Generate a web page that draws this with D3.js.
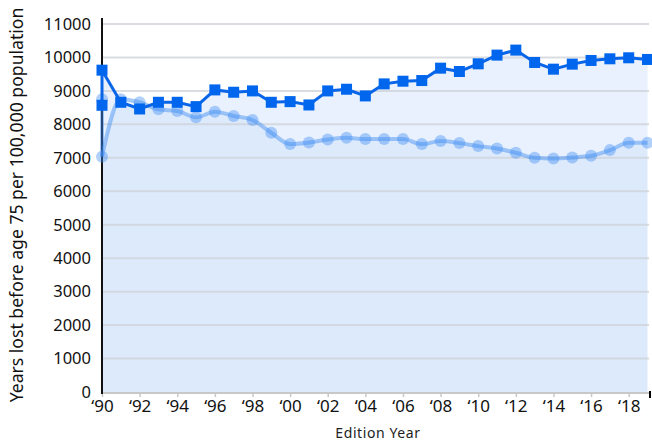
<!DOCTYPE html>
<html><head><meta charset="utf-8">
<script src="https://cdn.jsdelivr.net/npm/d3@7"></script>
<style>
html,body{margin:0;padding:0;background:#fff;}
svg{display:block;font-family:"Noto Sans",sans-serif;}
</style></head>
<body><svg id="c" width="652" height="448"></svg>
<script>
const years = [1990,1990,1991,1992,1993,1994,1995,1996,1997,1998,1999,2000,2001,2002,2003,2004,2005,2006,2007,2008,2009,2010,2011,2012,2013,2014,2015,2016,2017,2018,2019];
const seriesA = [8570,9620,8660,8460,8660,8660,8530,9030,8960,9000,8660,8680,8580,9000,9050,8850,9210,9290,9310,9680,9580,9810,10070,10220,9850,9650,9800,9910,9960,9990,9940];
const seriesB = [8750,7035,8750,8660,8450,8400,8210,8380,8250,8130,7750,7410,7460,7550,7600,7560,7560,7560,7410,7500,7440,7350,7280,7150,7000,6980,7010,7060,7230,7450,7450];
const yTicks = [0,1000,2000,3000,4000,5000,6000,7000,8000,9000,10000,11000];
const xTicks = [1990,1992,1994,1996,1998,2000,2002,2004,2006,2008,2010,2012,2014,2016,2018];
const yLabel = "Years lost before age 75 per 100,000 population";
const xLabel = "Edition Year";

(function(){
const svg = d3.select("#c");
const pL = 102, pR = 649, pT = 24, pB = 392;
const x = d3.scaleLinear().domain([1990, 2019]).range([102, 647.5]);
const y = d3.scaleLinear().domain([0, 11000]).range([pB, pT]);

const A = years.map((yr,i)=>({x:yr, y:seriesA[i]}));
const B = years.map((yr,i)=>({x:yr, y:seriesB[i]}));

const areaA = d3.area().x(d=>x(d.x)).y0(y(0)).y1(d=>y(d.y));
svg.append("path").attr("d", areaA(A)).attr("fill","#1a73e8").attr("fill-opacity",0.1);
const Bcurve = B.slice(1);
const areaB = d3.area().x(d=>x(d.x)).y0(y(0)).y1(d=>y(d.y)).curve(d3.curveMonotoneX);
svg.append("path").attr("d", areaB(Bcurve)).attr("fill","#1a73e8").attr("fill-opacity",0.05);

svg.append("g").selectAll("line").data(yTicks.filter(t=>t>0)).join("line")
  .attr("x1", pL).attr("x2", pR).attr("y1", d=>y(d)).attr("y2", d=>y(d))
  .attr("stroke","#cfd3d9").attr("stroke-width",2).attr("stroke-opacity",0.8);

svg.append("line").attr("x1",pL).attr("x2",pR).attr("y1",pB+1).attr("y2",pB+1)
  .attr("stroke","#c8c8c8").attr("stroke-width",2);
const xAxis = d3.axisBottom(x).tickValues(xTicks).tickSize(5).tickPadding(3)
  .tickFormat(d=>"\u2018"+String(d).slice(2));
const gx = svg.append("g").attr("transform",`translate(0,${pB})`).call(xAxis);
gx.select(".domain").remove();
gx.selectAll(".tick line").attr("stroke","#c8c8c8").attr("stroke-width",1.5);
gx.selectAll(".tick text").attr("font-size",17).attr("fill","#111").attr("font-family","Noto Sans");
svg.append("line").attr("x1",650).attr("x2",650).attr("y1",pB-1).attr("y2",pB+6).attr("stroke","#000").attr("stroke-width",2);

const yAxis = d3.axisLeft(y).tickValues(yTicks).tickSize(0).tickPadding(11).tickFormat(d3.format("d"));
const gy = svg.append("g").attr("transform",`translate(${pL},0)`).call(yAxis);
gy.select(".domain").remove();
gy.selectAll(".tick text").attr("font-size",16.5).attr("fill","#111").attr("font-family","Noto Sans");
svg.append("line").attr("x1",pL).attr("x2",pL).attr("y1",18).attr("y2",pB+2)
  .attr("stroke","#111").attr("stroke-width",2);

const lineB = d3.line().x(d=>x(d.x)).y(d=>y(d.y)).curve(d3.curveMonotoneX);
svg.append("path").attr("d", d3.line().x(d=>x(d.x)).y(d=>y(d.y))(B.slice(0,2)))
  .attr("fill","none").attr("stroke","#3d8bf2").attr("stroke-opacity",0.45).attr("stroke-width",4);
svg.append("path").attr("d", lineB(Bcurve)).attr("fill","none")
  .attr("stroke","#3d8bf2").attr("stroke-opacity",0.45).attr("stroke-width",4);
svg.append("g").selectAll("circle").data(B).join("circle")
  .attr("cx",d=>x(d.x)).attr("cy",d=>y(d.y)).attr("r",6)
  .attr("fill","#3d8bf2").attr("fill-opacity",0.4);

const lineA = d3.line().x(d=>x(d.x)).y(d=>y(d.y));
svg.append("path").attr("d", lineA(A)).attr("fill","none").attr("stroke","#0a66e8").attr("stroke-width",3);
svg.append("g").selectAll("rect").data(A).join("rect")
  .attr("x",d=>x(d.x)-5.5).attr("y",d=>y(d.y)-5.5).attr("width",11).attr("height",11)
  .attr("fill","#0066ee");

svg.append("text").attr("transform","translate(23,205) rotate(-90)").attr("text-anchor","middle")
  .attr("font-size",17.6).attr("fill","#111").text(yLabel);
svg.append("text").attr("x",378).attr("y",438).attr("text-anchor","middle")
  .attr("font-size",14).attr("letter-spacing",0.6).attr("fill","#222").text(xLabel);
})();
</script></body></html>
